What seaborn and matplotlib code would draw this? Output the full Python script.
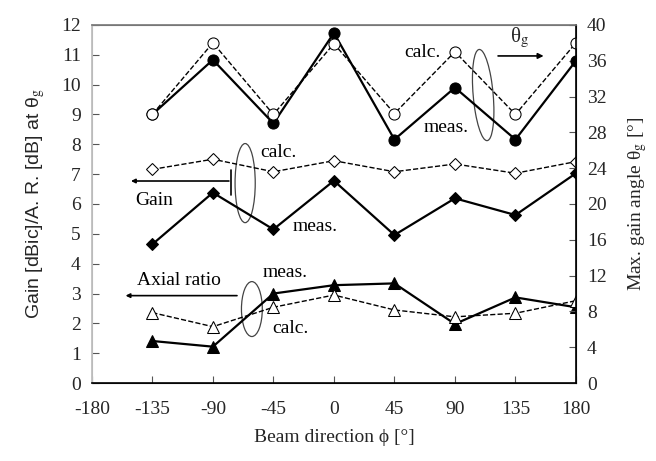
import matplotlib
matplotlib.use("Agg")
from matplotlib import pyplot as plt
from matplotlib.patches import Ellipse
import pandas as pd
import seaborn as sns

phi = [-135, -90, -45, 0, 45, 90, 135, 180]
theta_meas = [30.0, 36.1, 29.0, 39.1, 27.2, 33.0, 27.2, 36.0]
theta_calc = [30.0, 38.0, 30.0, 37.9, 30.1, 37.0, 30.0, 38.0]
gain_meas = [4.65, 6.38, 5.15, 6.78, 4.96, 6.19, 5.63, 7.03]
gain_calc = [7.16, 7.50, 7.08, 7.45, 7.08, 7.34, 7.03, 7.42]
ar_meas = [1.41, 1.22, 3.00, 3.28, 3.34, 1.98, 2.87, 2.54]
ar_calc = [2.36, 1.89, 2.54, 2.95, 2.45, 2.22, 2.34, 2.76]

sns.set_style("ticks")
plt.rcParams["font.family"] = ["Liberation Serif", "DejaVu Serif"]
plt.rcParams["mathtext.fontset"] = "stix"
plt.rcParams["axes.unicode_minus"] = False

df = pd.DataFrame({
    "phi": phi,
    "theta_meas": theta_meas, "theta_calc": theta_calc,
    "gain_meas": gain_meas, "gain_calc": gain_calc,
    "ar_meas": ar_meas, "ar_calc": ar_calc,
})

fig = plt.figure(figsize=(6.56, 4.61), dpi=100)
ax = fig.add_axes([0.140, 0.169, 0.738, 0.777])
ax2 = ax.twinx()

solid = dict(color="black", linewidth=1.6, markeredgecolor="black")
dashed = dict(color="black", linewidth=1.0, linestyle="--", dashes=(5, 3))

# theta_g on the right axis (calc drawn last, open circles on top)
sns.lineplot(data=df, x="phi", y="theta_meas", ax=ax2, marker="o", markersize=8,
             markerfacecolor="black", **solid)
sns.lineplot(data=df, x="phi", y="theta_calc", ax=ax2, marker="o", markersize=8,
             markerfacecolor="white", markeredgecolor="black", **dashed)

# gain and axial ratio on the left axis
sns.lineplot(data=df, x="phi", y="gain_calc", ax=ax, marker="D", markersize=6,
             markerfacecolor="white", markeredgecolor="black", **dashed)
sns.lineplot(data=df, x="phi", y="gain_meas", ax=ax, marker="D", markersize=6,
             markerfacecolor="black", **solid)
sns.lineplot(data=df, x="phi", y="ar_meas", ax=ax, marker="^", markersize=8,
             markerfacecolor="black", **solid)
sns.lineplot(data=df, x="phi", y="ar_calc", ax=ax, marker="^", markersize=8,
             markerfacecolor="white", markeredgecolor="black", **dashed)

ax.set_xlim(-180, 180)
ax.set_xticks(range(-180, 181, 45))
ax.set_ylim(0, 12)
ax.set_yticks(range(0, 13))
ax2.set_ylim(0, 40)
ax2.set_yticks(range(0, 41, 4))

for a in (ax, ax2):
    a.tick_params(direction="in", labelsize=14, length=5, width=0.8, color="#555555")
ax.tick_params(axis="x", pad=13)
ax.tick_params(axis="y", pad=8)
ax2.tick_params(axis="y", pad=8)

ax.set_xlabel("Beam direction \u03d5 [\u00b0]", fontsize=14, labelpad=8)
ax.set_ylabel("Gain [dBic]/A. R. [dB] at \u03b8$_{\\rm g}$", fontsize=14,
              family=["Liberation Sans", "DejaVu Sans"], labelpad=10)
ax2.set_ylabel("Max. gain angle \u03b8$_{\\rm g}$ [\u00b0]", fontsize=14, labelpad=14)

for s in ("top", "right", "bottom", "left"):
    ax.spines[s].set_visible(True)
    ax2.spines[s].set_visible(True)
ax.spines["left"].set_color("#bbbbbb")
ax2.spines["left"].set_color("#bbbbbb")
ax.spines["top"].set_color("#777777")
ax2.spines["top"].set_color("#777777")
ax2.spines["right"].set_color("black")
ax2.spines["bottom"].set_color("black")
for s in ax2.spines.values():
    s.set_linewidth(1.2)

# annotations (left-axis data coordinates)
txt = dict(fontsize=14, color="black")
ell = dict(fill=False, lw=0.9, ec="#444444")
ax.annotate("", xy=(158, 10.96), xytext=(120, 10.96),
            arrowprops=dict(arrowstyle="-|>", color="black", lw=1.2, mutation_scale=8))
ax.text(138, 11.15, "\u03b8$_{\\rm g}$", fontsize=15, ha="center", va="bottom")
ax.text(52, 11.06, "calc.", ha="left", va="center", **txt)
ax.text(67, 8.55, "meas.", ha="left", va="center", **txt)
ax.add_patch(Ellipse((111, 9.65), 16, 2.85, angle=-4, **ell))

ax.annotate("", xy=(-153, 6.77), xytext=(-76, 6.77),
            arrowprops=dict(arrowstyle="-|>", color="black", lw=1.2, mutation_scale=6))
ax.plot([-76.5, -76.5], [6.3, 7.15], color="black", lw=1.2)
ax.text(-148, 6.13, "Gain", ha="left", va="center", **txt)
ax.text(-55, 7.71, "calc.", ha="left", va="center", **txt)
ax.text(-31, 5.23, "meas.", ha="left", va="center", **txt)
ax.add_patch(Ellipse((-66, 6.7), 15, 2.65, **ell))

ax.annotate("", xy=(-157, 2.93), xytext=(-70, 2.93),
            arrowprops=dict(arrowstyle="-|>", color="black", lw=1.2, mutation_scale=6))
ax.text(-146.5, 3.45, "Axial ratio", ha="left", va="center", **txt)
ax.text(-53, 3.69, "meas.", ha="left", va="center", **txt)
ax.text(-46, 1.84, "calc.", ha="left", va="center", **txt)
ax.add_patch(Ellipse((-61, 2.48), 15.5, 1.84, **ell))

fig.savefig("out.png", dpi=100)
